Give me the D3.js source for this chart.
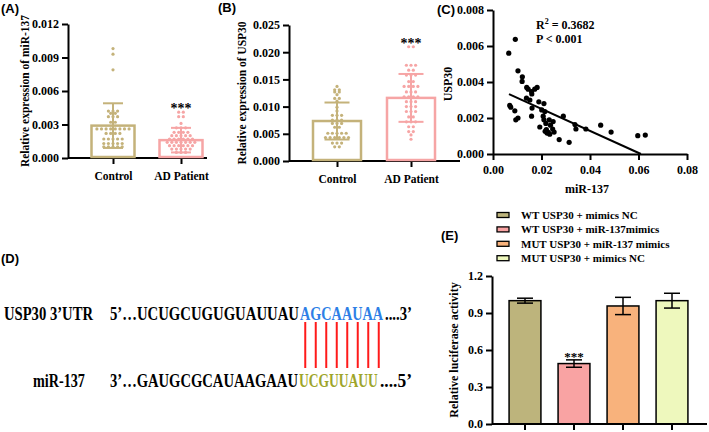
<!DOCTYPE html>
<html>
<head>
<meta charset="utf-8">
<script src="https://cdn.jsdelivr.net/npm/d3@7"></script>
<style>
  body { margin: 0; background: #fff; }
  svg text { font-family: "Liberation Serif", "Times New Roman", serif; font-weight: bold; fill: #000; }
  svg text.panel { font-family: "Liberation Sans", Arial, sans-serif; font-size: 13px; }
</style>
</head>
<body>
<script>
// ---- data ----
const groups = ["Control", "AD Patient"];

// (A) miR-137 expression, one value per subject
const mirControl = [0.0098, 0.0093, 0.0079, 0.0042, 0.0042, 0.0042, 0.0040, 0.0040,
  0.0037, 0.0037, 0.0037, 0.0032, 0.0032, 0.0026, 0.0026, 0.0026, 0.0026, 0.0026,
  0.0026, 0.0026, 0.0026, 0.0022, 0.0022, 0.0022, 0.0022, 0.0017, 0.0017, 0.0017,
  0.0017, 0.0017, 0.0013, 0.0013, 0.0013, 0.0013, 0.0013, 0.0010, 0.0010, 0.0010,
  0.0010, 0.0010];
const mirPatient = [0.0041, 0.0041, 0.0037, 0.0037, 0.0031, 0.0027, 0.0027, 0.0027,
  0.0023, 0.0023, 0.0023, 0.0023, 0.0020, 0.0020, 0.0020, 0.0020, 0.0020, 0.0017,
  0.0017, 0.0017, 0.0017, 0.0017, 0.0017, 0.0014, 0.0014, 0.0014, 0.0014, 0.0014,
  0.0014, 0.0014, 0.0011, 0.0011, 0.0011, 0.0011, 0.0011, 0.0011, 0.0008, 0.0008,
  0.0008, 0.0008, 0.0008, 0.0005, 0.0005, 0.0005];
const mirMean = [0.0029, 0.0016];
const mirSd = [0.0020, 0.0011];
const mirTicks = [0, 0.003, 0.006, 0.009, 0.012];

// (B) USP30 expression
const uspControl = [0.0137, 0.0131, 0.0131, 0.0127, 0.0127, 0.0122, 0.0115, 0.0115,
  0.0110, 0.0099, 0.0092, 0.0084, 0.0084, 0.0084, 0.0075, 0.0075, 0.0075, 0.0069,
  0.0069, 0.0069, 0.0062, 0.0062, 0.0051, 0.0051, 0.0051, 0.0051, 0.0051, 0.0043,
  0.0043, 0.0043, 0.0043, 0.0043, 0.0043, 0.0033, 0.0033, 0.0033, 0.0026, 0.0026];
const uspPatient = [0.0210, 0.0210, 0.0176, 0.0176, 0.0176, 0.0167, 0.0167, 0.0158,
  0.0158, 0.0158, 0.0146, 0.0146, 0.0137, 0.0137, 0.0137, 0.0137, 0.0127, 0.0127,
  0.0127, 0.0118, 0.0118, 0.0118, 0.0118, 0.0109, 0.0109, 0.0109, 0.0100, 0.0100,
  0.0100, 0.0091, 0.0091, 0.0091, 0.0081, 0.0081, 0.0072, 0.0072, 0.0072, 0.0063,
  0.0063, 0.0054, 0.0054, 0.0048, 0.0040];
const uspMean = [0.00735, 0.0116];
const uspSd = [0.0034, 0.0044];
const uspTicks = [0, 0.005, 0.010, 0.015, 0.020, 0.025];

// (C) correlation miR-137 vs USP30
const corrMir = [0.0092, 0.0065, 0.0103, 0.0121, 0.0120, 0.0139, 0.0145, 0.0159, 0.0160,
  0.0172, 0.0182, 0.0138, 0.0152, 0.0189, 0.0210, 0.0069, 0.0073, 0.0090, 0.0161, 0.0159,
  0.0094, 0.0103, 0.0201, 0.0214, 0.0207, 0.0210, 0.0290, 0.0193, 0.0218, 0.0232, 0.0237,
  0.0220, 0.0228, 0.0234, 0.0223, 0.0215, 0.0252, 0.0246, 0.0248, 0.0273, 0.0314, 0.0338,
  0.0342, 0.0383, 0.0444, 0.0487, 0.0597, 0.0628];
const corrUsp = [0.00637, 0.0056, 0.00462, 0.00429, 0.00403, 0.0037, 0.0036, 0.00347, 0.00334,
  0.0036, 0.0037, 0.0031, 0.0030, 0.0029, 0.0028, 0.0027, 0.0026, 0.0024, 0.00255, 0.0021,
  0.0019, 0.0020, 0.00245, 0.00236, 0.0021, 0.0019, 0.0021, 0.0015, 0.0017, 0.0019, 0.0016,
  0.00135, 0.0012, 0.0011, 0.00116, 0.00126, 0.00122, 0.00139, 0.0018, 0.0008, 0.00065, 0.00164,
  0.00139, 0.00139, 0.0016, 0.00122, 0.00102, 0.00105];
const fitMir = [0.0066, 0.061];
const fitUsp = [0.00333, 0.0];
const corrXTicks = [0, 0.02, 0.04, 0.06, 0.08];
const corrYTicks = [0, 0.002, 0.004, 0.006, 0.008];

// (D) binding site
const utrLabel = "USP30 3\u2019UTR";
const utrLeft = "5\u2019\u2026UCUGCUGUGUAUUAU";
const utrSeed = "AGCAAUAA";
const utrRight = "....3\u2019";
const mirLabel = "miR-137";
const mirLeft = "3\u2019\u2026GAUGCGCAUAAGAAU";
const mirSeed = "UCGUUAUU";
const mirRight = "....5\u2019";

// (E) luciferase assay
const lucGroups = ["WT USP30 + mimics NC", "WT USP30 + miR-137mimics",
  "MUT USP30 + miR-137 mimics", "MUT USP30 + mimics NC"];
const lucMean = [1.0, 0.49, 0.957, 1.0];
const lucErr = [0.02, 0.03, 0.07, 0.06];
const lucTicks = [0, 0.3, 0.6, 0.9, 1.2];

const olive = "#c4b27a";
const pink = "#f6a5a5";
const lucColors = ["#bdb47c", "#f9a3a3", "#f8b27c", "#eef8bd"];

const svg = d3.select("body").append("svg")
  .attr("width", 709).attr("height", 432);

function styleAxis(g) {
  g.selectAll("path, line").attr("stroke", "#000").attr("stroke-width", 2);
  g.selectAll("text").attr("font-size", 12);
}

// ---- dot + bar panels (A) and (B) ----
function dotBarPanel(cfg) {
  const y = d3.scaleLinear().domain(cfg.domain).range(cfg.yRange);
  const x = d3.scalePoint().domain(groups).range(cfg.centers);
  const g = svg.append("g");

  g.append("g")
    .attr("transform", `translate(${cfg.axisX},0)`)
    .call(d3.axisLeft(y).tickValues(cfg.ticks).tickFormat(d3.format(".3f")).tickSize(6).tickSizeOuter(0))
    .call(styleAxis);

  const xa = g.append("g")
    .attr("transform", `translate(0,${y(0)})`)
    .call(d3.axisBottom(x).tickSize(6).tickPadding(8).tickSizeOuter(0))
    .call(styleAxis);
  xa.select(".domain").remove();
  xa.selectAll("text").attr("font-size", 11.5);
  g.append("line")
    .attr("x1", cfg.axisX).attr("x2", cfg.axisEnd)
    .attr("y1", y(0)).attr("y2", y(0))
    .attr("stroke", "#000").attr("stroke-width", 2);

  groups.forEach((grp, i) => {
    const cx = x(grp);
    const col = cfg.colors[i];
    g.append("rect")
      .attr("x", cx - cfg.barW / 2).attr("y", y(cfg.means[i]))
      .attr("width", cfg.barW).attr("height", y(0) - y(cfg.means[i]) - 1)
      .attr("fill", "none").attr("stroke", col).attr("stroke-width", 2.5);

    // simple beeswarm: values on the same pixel row are spread sideways
    const rows = d3.group(cfg.values[i], v => Math.round(y(v) / 3));
    rows.forEach(vals => {
      vals.forEach((v, k) => {
        g.append("circle")
          .attr("cx", cx + (k - (vals.length - 1) / 2) * 4.6)
          .attr("cy", y(v)).attr("r", 1.6)
          .attr("fill", col);
      });
    });

    const lo = cfg.means[i] - cfg.sds[i], hi = cfg.means[i] + cfg.sds[i];
    g.append("line").attr("x1", cx).attr("x2", cx).attr("y1", y(lo)).attr("y2", y(hi))
      .attr("stroke", col).attr("stroke-width", 2);
    [lo, hi].forEach(v => {
      g.append("line").attr("x1", cx - cfg.capW / 2).attr("x2", cx + cfg.capW / 2)
        .attr("y1", y(v)).attr("y2", y(v)).attr("stroke", col).attr("stroke-width", 2);
    });
  });

  g.append("text").attr("x", x(groups[1])).attr("y", cfg.starY)
    .attr("text-anchor", "middle").attr("font-size", 14).text("***");

  g.append("text")
    .attr("transform", `translate(${cfg.labelX},${(cfg.yRange[0] + cfg.yRange[1]) / 2}) rotate(-90)`)
    .attr("text-anchor", "middle").attr("font-size", 11.5).text(cfg.ylabel);
}

dotBarPanel({
  domain: [0, 0.012], yRange: [158, 24], ticks: mirTicks,
  axisX: 68, axisEnd: 207, centers: [113, 181], barW: 43, capW: 20,
  values: [mirControl, mirPatient], means: mirMean, sds: mirSd,
  colors: [olive, pink], starY: 113, labelX: 29,
  ylabel: "Relative expression of miR-137"
});

dotBarPanel({
  domain: [0, 0.025], yRange: [161, 25], ticks: uspTicks,
  axisX: 289, axisEnd: 460, centers: [337, 411], barW: 48, capW: 25,
  values: [uspControl, uspPatient], means: uspMean, sds: uspSd,
  colors: [olive, pink], starY: 48, labelX: 246,
  ylabel: "Relative expression of USP30"
});

// ---- (C) scatter ----
{
  const x = d3.scaleLinear().domain([0, 0.08]).range([493, 687]);
  const y = d3.scaleLinear().domain([0, 0.008]).range([154, 10]);
  const g = svg.append("g");
  g.append("g").attr("transform", "translate(0,154)")
    .call(d3.axisBottom(x).tickValues(corrXTicks).tickFormat(d3.format(".2f")).tickSize(6).tickPadding(5).tickSizeOuter(0))
    .call(styleAxis);
  g.append("g").attr("transform", "translate(493,0)")
    .call(d3.axisLeft(y).tickValues(corrYTicks).tickFormat(d3.format(".3f")).tickSize(6).tickSizeOuter(0))
    .call(styleAxis);

  g.append("path")
    .datum(d3.zip(fitMir, fitUsp))
    .attr("d", d3.line().x(d => x(d[0])).y(d => y(d[1])))
    .attr("stroke", "#000").attr("stroke-width", 2).attr("fill", "none");

  g.selectAll("circle").data(d3.zip(corrMir, corrUsp)).join("circle")
    .attr("cx", d => x(d[0])).attr("cy", d => y(d[1])).attr("r", 2.6).attr("fill", "#000");

  const r2 = g.append("text").attr("x", 536).attr("y", 29).attr("font-size", 12);
  r2.append("tspan").text("R");
  r2.append("tspan").attr("dy", -5).attr("font-size", 8).text("2");
  r2.append("tspan").attr("dy", 5).text(" = 0.3682");
  g.append("text").attr("x", 536).attr("y", 43).attr("font-size", 12).text("P < 0.001");

  g.append("text").attr("x", 587).attr("y", 193).attr("text-anchor", "middle")
    .attr("font-size", 12).text("miR-137");
  g.append("text").attr("transform", "translate(452,84) rotate(-90)")
    .attr("text-anchor", "middle").attr("font-size", 12).text("USP30");
}

// ---- (D) sequence alignment ----
{
  const g = svg.append("g");
  // the printed sequence type is narrow: fit each piece to its width,
  // then stretch it back up to the height of 18px type
  function seg(txt, x0, x1, yb, col) {
    const holder = g.append("g");
    const t = holder.append("text").attr("x", 0).attr("y", 0)
      .attr("font-size", 18).style("fill", col || "#000").text(txt);
    const w = t.node().getComputedTextLength();
    const k = (x1 - x0) / w;
    t.attr("font-size", 18 * k);
    holder.attr("transform", `translate(${x0},${yb}) scale(1,${1 / k})`);
  }
  seg(utrLabel, 4, 93, 320);
  seg(utrLeft, 110, 299, 320);
  seg(utrSeed, 300, 383, 320, "#2e7fe6");
  seg(utrRight, 385, 412, 320);
  seg(mirLabel, 33, 85, 387);
  seg(mirLeft, 110, 298, 387);
  seg(mirSeed, 299, 378, 387, "#9ea52a");
  seg(mirRight, 380, 412, 387);

  const pairX = d3.scaleBand().domain(d3.range(utrSeed.length)).range([300, 384]);
  g.selectAll("line.pair").data(d3.range(utrSeed.length)).join("line")
    .attr("class", "pair")
    .attr("x1", i => pairX(i) + pairX.bandwidth() / 2)
    .attr("x2", i => pairX(i) + pairX.bandwidth() / 2)
    .attr("y1", 322).attr("y2", 368)
    .attr("stroke", "#ff1a1a").attr("stroke-width", 2);
}

// ---- (E) luciferase ----
{
  const y = d3.scaleLinear().domain([0, 1.2]).range([424, 276]);
  const x = d3.scaleBand().domain(lucGroups).range([500.5, 696.5]).paddingInner(0.35).paddingOuter(0.175);
  const g = svg.append("g");

  g.append("g").attr("transform", "translate(492,0)")
    .call(d3.axisLeft(y).tickValues(lucTicks).tickFormat(d3.format(".1f")).tickSize(6).tickSizeOuter(0))
    .call(styleAxis);
  const xa = g.append("g").attr("transform", "translate(0,424)")
    .call(d3.axisBottom(x).tickSize(6).tickFormat("").tickSizeOuter(0))
    .call(styleAxis);
  xa.select(".domain").remove();

  g.selectAll("rect.bar").data(lucGroups).join("rect")
    .attr("class", "bar")
    .attr("x", d => x(d)).attr("width", x.bandwidth())
    .attr("y", (d, i) => y(lucMean[i])).attr("height", (d, i) => y(0) - y(lucMean[i]))
    .attr("fill", (d, i) => lucColors[i]).attr("stroke", "#000").attr("stroke-width", 1.5);

  g.append("line").attr("x1", 492).attr("x2", 707).attr("y1", 424).attr("y2", 424)
    .attr("stroke", "#000").attr("stroke-width", 2);

  lucGroups.forEach((d, i) => {
    const cx = x(d) + x.bandwidth() / 2;
    const lo = lucMean[i] - lucErr[i], hi = lucMean[i] + lucErr[i];
    g.append("line").attr("x1", cx).attr("x2", cx).attr("y1", y(lo)).attr("y2", y(hi))
      .attr("stroke", "#000").attr("stroke-width", 1.5);
    [lo, hi].forEach(v => g.append("line")
      .attr("x1", cx - 8).attr("x2", cx + 8).attr("y1", y(v)).attr("y2", y(v))
      .attr("stroke", "#000").attr("stroke-width", 1.5));
  });

  g.append("text").attr("x", x(lucGroups[1]) + x.bandwidth() / 2).attr("y", 361)
    .attr("text-anchor", "middle").attr("font-size", 13).text("***");

  g.append("text").attr("transform", "translate(458,350) rotate(-90)")
    .attr("text-anchor", "middle").attr("font-size", 12).text("Relative luciferase activity");

  const leg = g.selectAll("g.leg").data(lucGroups).join("g")
    .attr("class", "leg")
    .attr("transform", (d, i) => `translate(497,${215 + i * 14.4})`);
  leg.append("rect").attr("x", 0).attr("y", -2.5).attr("width", 12).attr("height", 5)
    .attr("fill", (d, i) => lucColors[i]).attr("stroke", "#000").attr("stroke-width", 1.3);
  leg.append("text").attr("x", 24).attr("y", 4).attr("font-size", 11).text(d => d);
}

// ---- panel letters ----
[["(A)", 1, 13], ["(B)", 218, 12], ["(C)", 437, 14], ["(D)", 1, 263], ["(E)", 441, 240]]
  .forEach(([t, px, py]) => svg.append("text").attr("class", "panel").attr("x", px).attr("y", py).text(t));
</script>
</body>
</html>
